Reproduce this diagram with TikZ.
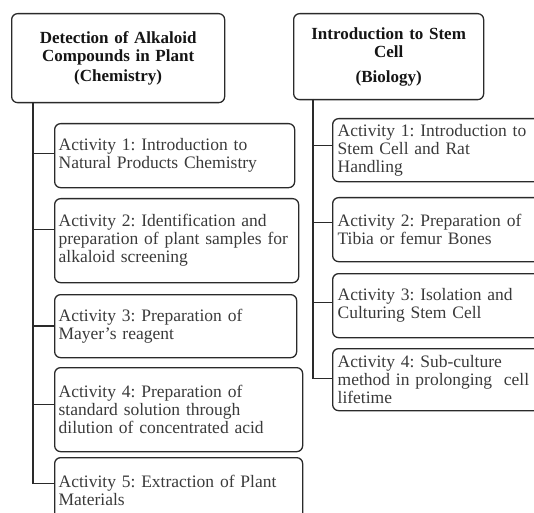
\documentclass[tikz,border=0pt]{standalone}
\usepackage{fontspec}
\setmainfont{Liberation Serif}
\frenchspacing
\definecolor{boxc}{HTML}{2A2A2A}
\definecolor{txtc}{HTML}{3A3A3A}
\definecolor{headc}{HTML}{151515}
\begin{document}
\frenchspacing
\begin{tikzpicture}[x=1bp,y=-1bp,
  box/.style={draw=boxc, line width=1.3bp, rounded corners=6bp, inner ysep=0pt, anchor=north west},
  actbox/.style={box, align=left, text=txtc, font=\fontsize{17.5bp}{18bp}\selectfont\frenchspacing},
  lbox/.style={actbox, inner xsep=4bp, text width=232bp},
  rbox/.style={actbox, inner xsep=5bp, text width=203bp},
  headbox/.style={box, align=center, text=headc, inner xsep=2bp, font=\bfseries\fontsize{17bp}{18.5bp}\selectfont},
  conn/.style={draw=boxc, line width=1.6bp}
]
\useasboundingbox (0,0) rectangle (534,513);
\clip (0,0) rectangle (534,513);

% left column
\node[headbox, minimum width=213bp, minimum height=89bp, text width=209bp] (lh) at (11,13)
  {Detection of Alkaloid\\Compounds in Plant\\[1.5bp](Chemistry)};
\node[lbox, minimum height=64bp] (l1) at (54,123)
  {Activity 1: Introduction to\\Natural Products Chemistry};
\node[lbox, minimum height=84bp, text width=236bp] (l2) at (54,198)
  {Activity 2: Identification and\\preparation of plant samples for\\alkaloid screening};
\node[lbox, minimum height=63bp, text width=234bp] (l3) at (54,294)
  {Activity 3: Preparation of\\Mayer’s reagent};
\node[lbox, minimum height=84bp, text width=240bp] (l4) at (54,367)
  {Activity 4: Preparation of\\standard solution through\\dilution of concentrated acid};
\node[lbox, minimum height=84bp, text width=240bp] (l5) at (54,457)
  {Activity 5: Extraction of Plant\\Materials\\\mbox{}};

\coordinate (lt) at (33,102);
\coordinate (lb1) at ([yshift=2bp]l1.west);
\coordinate (lb2) at ([yshift=11bp]l2.west);
\coordinate (lb3) at (l3.west);
\coordinate (lb4) at ([yshift=5bp]l4.west);
\coordinate (lb5) at ([yshift=16bp]l5.west);
\draw[conn] (lt) |- (lb5);
\foreach \b in {lb1,lb2,lb3,lb4} \draw[conn] (lt |- \b) -- (\b);

% right column
\node[headbox, minimum width=190bp, minimum height=86bp, text width=186bp] (rh) at (293,13)
  {Introduction to Stem\\Cell\\[6bp](Biology)};
\node[rbox, minimum height=63bp] (r1) at (332,118)
  {Activity 1: Introduction to\\Stem Cell and Rat\\Handling};
\node[rbox, minimum height=64bp] (r2) at (332,197)
  {Activity 2: Preparation of\\Tibia or femur Bones};
\node[rbox, minimum height=64bp] (r3) at (332,273)
  {Activity 3: Isolation and\\Culturing Stem Cell};
\node[rbox, minimum height=62bp] (r4) at (332,348)
  {Activity 4: Sub-culture\\method in prolonging\ \ cell\\lifetime};

\coordinate (rt) at (313,99);
\coordinate (rb1) at ([yshift=4.5bp]r1.west);
\coordinate (rb2) at ([yshift=7bp]r2.west);
\coordinate (rb3) at ([yshift=3bp]r3.west);
\coordinate (rb4) at ([yshift=1bp]r4.west);
\draw[conn] (rt) |- (rb4);
\foreach \b in {rb1,rb2,rb3} \draw[conn] (rt |- \b) -- (\b);
\end{tikzpicture}
\end{document}
